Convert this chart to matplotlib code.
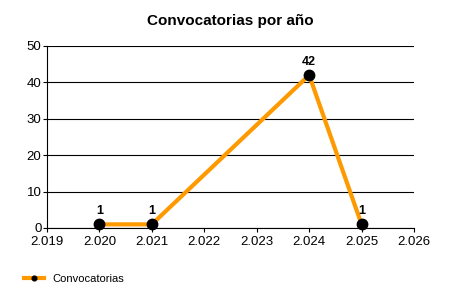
import matplotlib.pyplot as plt
from matplotlib.ticker import FuncFormatter

# data
years = [2020, 2021, 2024, 2025]
counts = [1, 1, 42, 1]
x_ticks = [2019, 2020, 2021, 2022, 2023, 2024, 2025, 2026]
y_ticks = [0, 10, 20, 30, 40, 50]

plt.rcParams["font.family"] = ["Liberation Sans", "DejaVu Sans"]

fig = plt.figure(figsize=(4.5, 3), dpi=100)
ax = fig.add_axes([0.1044, 0.24, 0.8156, 0.6067])

ax.plot(years, counts, color="#FF9900", linewidth=3, marker="o",
        markersize=7.5, markerfacecolor="black", markeredgecolor="black",
        label="Convocatorias", zorder=3, clip_on=False)

for x, y in zip(years, counts):
    ax.annotate(str(y), (x, y), xytext=(0, 5), textcoords="offset points",
                ha="center", va="bottom", fontsize=9, fontweight="bold")

ax.set_xlim(2019, 2026)
ax.set_ylim(0, 50)
ax.set_xticks(x_ticks)
ax.xaxis.set_major_formatter(FuncFormatter(lambda v, p: f"{int(v) // 1000}.{int(v) % 1000:03d}"))
ax.set_yticks(y_ticks)
ax.yaxis.grid(True, color="black", linewidth=0.8)
ax.set_axisbelow(True)
ax.spines["top"].set_visible(False)
ax.spines["right"].set_visible(False)
ax.tick_params(axis="both", labelsize=9.5, length=3, width=0.8)
ax.tick_params(axis="x", pad=3)
ax.tick_params(axis="y", pad=1)

ax.set_title("Convocatorias por año", fontsize=11, fontweight="bold", pad=15)

fig.legend(loc="lower left", bbox_to_anchor=(0.03, 0.02), frameon=False,
           fontsize=8, handlelength=1.8, markerscale=0.45)

fig.savefig("out.png", dpi=100)
